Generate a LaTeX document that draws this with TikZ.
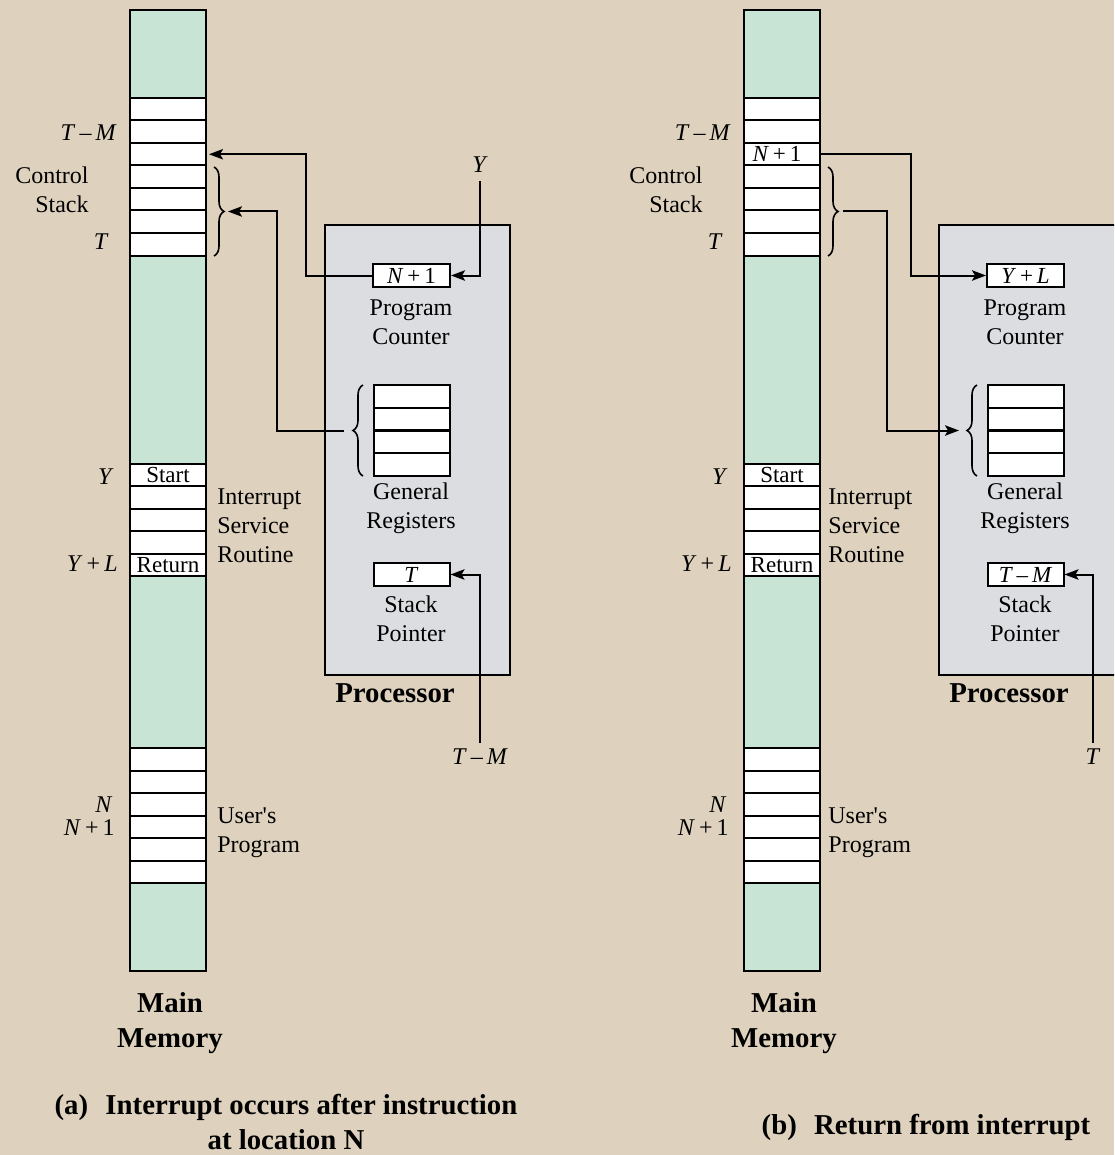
\documentclass[tikz,border=0pt]{standalone}
\usepackage{fontspec}
\setmainfont{Liberation Serif}[Ligatures=TeXOff]
\usetikzlibrary{arrows.meta,decorations.pathreplacing}
\definecolor{bgbeige}{RGB}{222,210,190}
\definecolor{memgreen}{RGB}{200,228,212}
\definecolor{procgray}{RGB}{220,221,225}
\newcommand{\MemColumn}[2]{%
  \node[mem] (#1-mem) at (#2,490.5) {};
  \foreach \i in {1,...,7}{\node[cell] (#1-cs-\i) at (#2,{98+22.5*(\i-0.5)}) {};}
  \foreach \i in {1,...,5}{\node[cell] (#1-isr-\i) at (#2,{464+22.4*(\i-0.5)}) {};}
  \foreach \i in {1,...,6}{\node[cell] (#1-up-\i) at (#2,{748+22.5*(\i-0.5)}) {};}
  \node[celltext] (#1-start) at (#1-isr-1) {Start};
  \node[celltext] (#1-return) at (#1-isr-5) {Return};
}
\begin{document}
\begin{tikzpicture}[x=0.5pt,y=-0.5pt,
  cell/.style={draw=black, line width=1pt, fill=white, minimum width=38pt, minimum height=11.25pt, inner sep=0pt},
  celltext/.style={inner sep=0pt, font=\fontsize{11.5}{13}\selectfont},
  mem/.style={draw=black, line width=1pt, fill=memgreen, minimum width=38pt, minimum height=480.5pt, inner sep=0pt},
  proc/.style={draw=black, line width=1pt, fill=procgray, minimum width=92.5pt, minimum height=225pt, inner sep=0pt},
  lab/.style={inner sep=0pt, font=\fontsize{12}{14.5}\selectfont},
  head/.style={inner sep=0pt, font=\fontsize{14.4}{17.5}\selectfont\bfseries, align=center},
  arr/.style={line width=1pt, -{Stealth[length=7pt,width=5.2pt,inset=1.5pt]}},
  brc/.style={decorate, decoration={brace, amplitude=5pt}, line width=0.8pt}]
\fill[bgbeige] (0,0) rectangle (1114,1155);
\useasboundingbox (0,0) rectangle (1114,1155);
\clip (0,0) rectangle (1114,1155);

% ================= (a) =================
\node[proc] (a-proc) at (417.5,450) {};
\MemColumn{a}{168}
% processor contents
\node[cell, minimum width=38.5pt] (a-pc) at (411.5,275.5) {};
\node[celltext] (a-pct) at (a-pc) {\textit{N}\,+\,1};
\node[lab, align=center] (a-pclab) at (411,322.5) {Program\\Counter};
\foreach \i in {1,...,4}{\node[cell] (a-gr-\i) at (411.5,{385+22.75*(\i-0.5)}) {};}
\node[lab, align=center] (a-grlab) at (411,508.5) {General\\Registers};
\node[cell] (a-sp) at (411.5,574.5) {};
\node[celltext] (a-spt) at (a-sp) {\textit{T}};
\node[lab, align=center] (a-splab2) at (411,618.5) {Stack\\Pointer};
\node[head] (a-proclab) at (395,693) {Processor};
% memory labels
\node[lab, anchor=east] (a-tm) at (117,133) {\textit{T}\,–\,\textit{M}};
\node[lab, anchor=east, align=right] (a-ctrl) at (89,189.5) {Control\\Stack};
\node[lab, anchor=east] (a-t) at (109,242) {\textit{T}};
\node[lab, anchor=east] (a-y) at (114,477) {\textit{Y}};
\node[lab, anchor=east] (a-yl) at (118,564) {\textit{Y}\,+\,\textit{L}};
\node[lab, anchor=east] (a-n) at (113,805) {\textit{N}};
\node[lab, anchor=east] (a-n1) at (115,828) {\textit{N}\,+\,1};
\node[lab, anchor=west, align=left] (a-isrlab) at (217,526) {Interrupt\\Service\\Routine};
\node[lab, anchor=west, align=left] (a-uplab) at (217,833) {User's\\Program};
\node[head] (a-mainmem) at (170,1023.5) {Main\\Memory};
% braces
\draw[brc] (214,167) -- (214,256);
\coordinate (a-cstip) at (228,211.5);
\draw[brc] (363,476) -- (363,385);
\coordinate (a-grtip) at (344,430.5);
% connectors
\node[lab] (a-yin) at (480,165) {\textit{Y}};
\node[lab] (a-tmin) at (480,757) {\textit{T}\,–\,\textit{M}};
\draw[arr, shorten >=1pt] (a-pc.west) -- ++(-66,0) |- (a-cs-3.east);
\draw[arr] (a-yin.south) ++(0,8) |- (a-pc.east);
\draw[arr] (a-grtip) -- ++(-67,0) |- (a-cstip);
\draw[arr] (a-tmin.north) ++(0,-6) |- (a-sp.east);

% ================= (b) =================
\node[proc] (b-proc) at (1031.5,450) {};
\MemColumn{b}{782}
\node[celltext] (b-n1cell) at ([xshift=-2.5pt]b-cs-3.center) {\textit{N}\,+\,1};
\node[cell, minimum width=38.5pt] (b-pc) at (1025.5,275.5) {};
\node[celltext] (b-pct) at (b-pc) {\textit{Y}\,+\,\textit{L}};
\node[lab, align=center] (b-pclab) at (1025,322.5) {Program\\Counter};
\foreach \i in {1,...,4}{\node[cell] (b-gr-\i) at (1025.5,{385+22.75*(\i-0.5)}) {};}
\node[lab, align=center] (b-grlab) at (1025,508.5) {General\\Registers};
\node[cell] (b-sp) at (1025.5,574.5) {};
\node[celltext] (b-spt) at (b-sp) {\textit{T}\,–\,\textit{M}};
\node[lab, align=center] (b-splab2) at (1025,618.5) {Stack\\Pointer};
\node[head] (b-proclab) at (1009,693) {Processor};
\node[lab, anchor=east] (b-tm) at (731,133) {\textit{T}\,–\,\textit{M}};
\node[lab, anchor=east, align=right] (b-ctrl) at (703,189.5) {Control\\Stack};
\node[lab, anchor=east] (b-t) at (723,242) {\textit{T}};
\node[lab, anchor=east] (b-y) at (728,477) {\textit{Y}};
\node[lab, anchor=east] (b-yl) at (732,564) {\textit{Y}\,+\,\textit{L}};
\node[lab, anchor=east] (b-n) at (727,805) {\textit{N}};
\node[lab, anchor=east] (b-n1) at (729,828) {\textit{N}\,+\,1};
\node[lab, anchor=west, align=left] (b-isrlab) at (828,526) {Interrupt\\Service\\Routine};
\node[lab, anchor=west, align=left] (b-uplab) at (828,833) {User's\\Program};
\node[head] (b-mainmem) at (784,1023.5) {Main\\Memory};
\draw[brc] (828,167) -- (828,256);
\coordinate (b-cstip) at (843,211.5);
\draw[brc] (977,476) -- (977,385);
\coordinate (b-grtip) at (959,430.5);
\node[lab] (b-tin) at (1093,757) {\textit{T}};
\draw[arr] (b-cs-3.east) -- ++(90,0) |- (b-pc.west);
\draw[arr] (b-cstip) -- ++(44,0) |- (b-grtip);
\draw[arr] (b-tin.north) ++(0,-6) |- (b-sp.east);

% captions
\node[head] (capa) at (286,1122) {(a)\hspace{0.6em}Interrupt occurs after instruction\\at location N};
\node[head] (capb) at (926,1127) {(b)\hspace{0.6em}Return from interrupt};
\end{tikzpicture}
\end{document}
